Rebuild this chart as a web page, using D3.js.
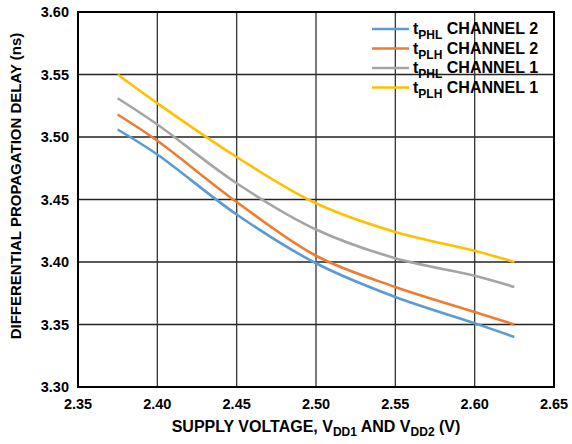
<!DOCTYPE html>
<html>
<head>
<meta charset="utf-8">
<script src="https://cdn.jsdelivr.net/npm/d3@7"></script>
<style>
  body { margin: 0; background: #fff; }
  text { font-family: "Liberation Sans", Arial, sans-serif; font-weight: bold; fill: #000; }
</style>
</head>
<body>
<svg id="chart"></svg>
<script>
// supply voltage (V)
const voltages = [2.375, 2.40, 2.45, 2.50, 2.55, 2.60, 2.625];

// propagation delay (ns)
const tphlCh2 = [3.506, 3.486, 3.438, 3.399, 3.372, 3.351, 3.340];
const tplhCh2 = [3.518, 3.497, 3.448, 3.405, 3.380, 3.360, 3.350];
const tphlCh1 = [3.531, 3.510, 3.463, 3.426, 3.403, 3.389, 3.380];
const tplhCh1 = [3.550, 3.527, 3.484, 3.447, 3.424, 3.409, 3.400];

const seriesNames = [
  { sub: "PHL", ch: "CHANNEL 2" },
  { sub: "PLH", ch: "CHANNEL 2" },
  { sub: "PHL", ch: "CHANNEL 1" },
  { sub: "PLH", ch: "CHANNEL 1" }
];
const seriesColors = ["#5b9bd5", "#ed7d31", "#a5a5a5", "#ffc000"];
const seriesValues = [tphlCh2, tplhCh2, tphlCh1, tplhCh1];

const xTicks = [2.35, 2.40, 2.45, 2.50, 2.55, 2.60, 2.65];
const yTicks = [3.30, 3.35, 3.40, 3.45, 3.50, 3.55, 3.60];

const W = 572, H = 444;
const margin = { top: 12, right: 18, bottom: 57, left: 78 };
const width = W - margin.left - margin.right;
const height = H - margin.top - margin.bottom;

const svg = d3.select("#chart").attr("width", W).attr("height", H);
const g = svg.append("g").attr("transform", `translate(${margin.left},${margin.top})`);

const x = d3.scaleLinear().domain([2.35, 2.65]).range([0, width]);
const y = d3.scaleLinear().domain([3.30, 3.60]).range([height, 0]);

// grid
g.append("g").selectAll("line").data(yTicks.slice(1, -1)).join("line")
  .attr("x1", 0).attr("x2", width)
  .attr("y1", d => y(d)).attr("y2", d => y(d))
  .attr("stroke", "#222").attr("stroke-width", 1.3);
g.append("g").selectAll("line").data(xTicks.slice(1, -1)).join("line")
  .attr("y1", 0).attr("y2", height)
  .attr("x1", d => x(d)).attr("x2", d => x(d))
  .attr("stroke", "#333").attr("stroke-width", 1.3);

// curves
const line = d3.line()
  .x((d, i) => x(voltages[i]))
  .y(d => y(d))
  .curve(d3.curveCatmullRom.alpha(0.5));

g.append("g").selectAll("path").data(seriesValues).join("path")
  .attr("d", d => line(d))
  .attr("fill", "none")
  .attr("stroke", (d, i) => seriesColors[i])
  .attr("stroke-width", 2.6)
  .attr("stroke-linecap", "butt");

// frame
g.append("rect").attr("width", width).attr("height", height)
  .attr("fill", "none").attr("stroke", "#000").attr("stroke-width", 2);

// axes labels
g.append("g").selectAll("text").data(yTicks).join("text")
  .attr("x", -9).attr("y", d => y(d) + 5)
  .attr("text-anchor", "end").attr("font-size", 14.5)
  .text(d => d.toFixed(2));

g.append("g").selectAll("text").data(xTicks).join("text")
  .attr("x", d => x(d)).attr("y", height + 22)
  .attr("text-anchor", "middle").attr("font-size", 14.5)
  .text(d => d.toFixed(2));

// x title
const xt = svg.append("text")
  .attr("x", 316).attr("y", 432)
  .attr("text-anchor", "middle").attr("font-size", 16);
xt.append("tspan").text("SUPPLY VOLTAGE, V");
xt.append("tspan").attr("font-size", 12).attr("dy", 4).text("DD1");
xt.append("tspan").attr("dy", -4).text(" AND V");
xt.append("tspan").attr("font-size", 12).attr("dy", 4).text("DD2");
xt.append("tspan").attr("dy", -4).text(" (V)");

// y title
svg.append("text")
  .attr("transform", "translate(21,186) rotate(-90)")
  .attr("text-anchor", "middle").attr("font-size", 15)
  .text("DIFFERENTIAL PROPAGATION DELAY (ns)");

// legend
const legend = svg.append("g").attr("transform", "translate(372,29)");
const rows = legend.selectAll("g").data(seriesNames).join("g")
  .attr("transform", (d, i) => `translate(0,${i * 19.5})`);
rows.append("line").attr("x1", 0).attr("x2", 37).attr("y1", 0).attr("y2", 0)
  .attr("stroke", (d, i) => seriesColors[i]).attr("stroke-width", 2.6);
const lt = rows.append("text").attr("x", 41).attr("y", 5).attr("font-size", 16);
lt.append("tspan").text("t");
lt.append("tspan").attr("font-size", 12).attr("dy", 5).text(d => d.sub);
lt.append("tspan").attr("dy", -5).text(d => " " + d.ch);
</script>
</body>
</html>
